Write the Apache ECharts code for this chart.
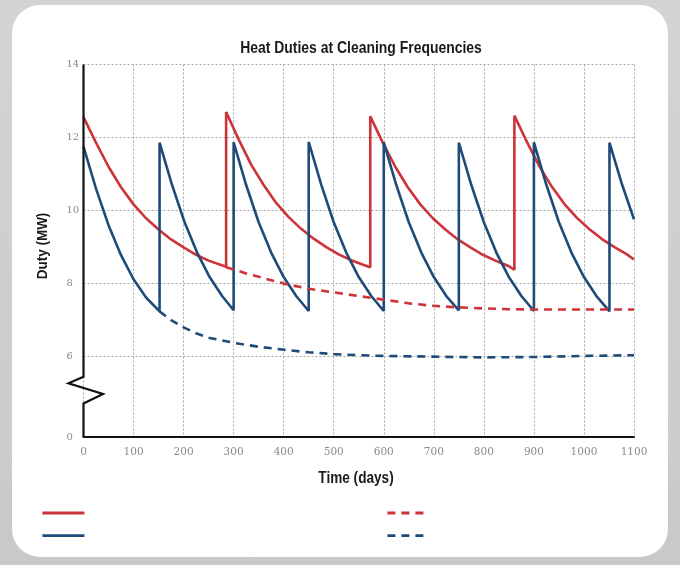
<!DOCTYPE html>
<html>
<head>
<meta charset="utf-8">
<script src="https://cdn.jsdelivr.net/npm/echarts@6/dist/echarts.min.js"></script>
<style>
  html, body { margin: 0; padding: 0; width: 680px; height: 565px; overflow: hidden;
    background: linear-gradient(180deg, #d4d4d4 0%, #c9c9c9 100%); }
  #card { position: absolute; left: 12px; top: 5px; width: 656px; height: 552px;
    background: #ffffff; border-radius: 28px; }
  #chart { position: absolute; left: 0; top: 0; width: 680px; height: 565px; }
</style>
</head>
<body>
<div id="card"></div>
<div id="chart"></div>
<script>
// ---- data (day, duty MW) ----
const titleText = 'Heat Duties at Cleaning Frequencies';
const xName = 'Time (days)';
const yName = 'Duty (MW)';
const xTicks = [0, 100, 200, 300, 400, 500, 600, 700, 800, 900, 1000, 1100];
const yTickValues = [3.8, 6, 8, 10, 12, 14];
const yTickLabels = ['0', '6', '8', '10', '12', '14'];

// red: cleaned about every 288 days
const redCleanDays = [0, 25, 50, 75, 100, 125, 150, 175, 200, 225, 250, 275, 285,
  285, 310, 335, 360, 385, 410, 435, 460, 485, 510, 535, 560, 573,
  573, 598, 623, 648, 673, 698, 723, 748, 773, 798, 823, 848, 861,
  861, 886, 911, 936, 961, 986, 1011, 1036, 1061, 1086, 1100];
const redCleanDuty = [12.56, 11.86, 11.20, 10.64, 10.17, 9.79, 9.48, 9.21, 8.99, 8.79, 8.63, 8.51, 8.46,
  12.70, 11.95, 11.26, 10.70, 10.21, 9.82, 9.50, 9.23, 9.00, 8.80, 8.64, 8.51, 8.45,
  12.58, 11.86, 11.20, 10.64, 10.17, 9.79, 9.48, 9.21, 8.99, 8.79, 8.63, 8.49, 8.38,
  12.60, 11.88, 11.21, 10.65, 10.18, 9.80, 9.49, 9.22, 9.00, 8.80, 8.66];

// blue: cleaned about every 150 days
const blueCleanDays = [0, 25, 50, 75, 100, 125, 152,
  152, 177, 202, 227, 252, 277, 300,
  300, 325, 350, 375, 400, 425, 450,
  450, 475, 500, 525, 550, 575, 600,
  600, 625, 650, 675, 700, 725, 750,
  750, 775, 800, 825, 850, 875, 900,
  900, 925, 950, 975, 1000, 1025, 1051,
  1051, 1076, 1100];
const blueCleanDuty = [11.75, 10.60, 9.60, 8.78, 8.12, 7.62, 7.24,
  11.86, 10.70, 9.68, 8.85, 8.18, 7.66, 7.27,
  11.87, 10.70, 9.68, 8.85, 8.18, 7.66, 7.25,
  11.88, 10.71, 9.68, 8.85, 8.18, 7.66, 7.25,
  11.87, 10.70, 9.68, 8.85, 8.18, 7.66, 7.27,
  11.86, 10.70, 9.68, 8.85, 8.18, 7.66, 7.25,
  11.87, 10.70, 9.68, 8.85, 8.18, 7.66, 7.24,
  11.86, 10.72, 9.76];

// dashed: no further cleaning
const redFouledDays = [285, 325, 365, 400, 450, 500, 550, 600, 650, 700, 750, 800, 850, 900, 950, 1000, 1050, 1100];
const redFouledDuty = [8.45, 8.28, 8.13, 8.00, 7.86, 7.76, 7.66, 7.56, 7.46, 7.39, 7.35, 7.32, 7.30, 7.29, 7.29, 7.29, 7.29, 7.29];
const blueFouledDays = [152, 175, 200, 225, 250, 300, 350, 400, 450, 500, 550, 600, 700, 800, 900, 1000, 1100];
const blueFouledDuty = [7.24, 7.00, 6.80, 6.64, 6.52, 6.38, 6.27, 6.19, 6.12, 6.07, 6.04, 6.02, 6.00, 5.98, 5.99, 6.02, 6.04];

const seriesNames = ['Red cleaned', 'Blue cleaned', 'Red uncleaned', 'Blue uncleaned'];

const RED = '#cc343a';
const BLUE = '#1f4b78';
const FONT_B = "'Liberation Sans', Arial, sans-serif";
const FONT_N = "'DejaVu Serif', serif";

const zip = (xs, ys) => xs.map((x, i) => [x, ys[i]]);

const chart = echarts.init(document.getElementById('chart'), null, { renderer: 'canvas' });

function lineSeries(name, data, color, dashed) {
  return {
    name, type: 'line', data, showSymbol: false, symbol: 'none',
    lineStyle: { color, width: 2.6, type: dashed ? [8, 6] : 'solid' },
    itemStyle: { color },
    animation: false
  };
}

const gridStyle = { color: '#a9a9a9', type: [2, 2], width: 1 };
const legendCommon = {
  orient: 'vertical', top: 506, padding: 0, itemWidth: 42, itemHeight: 14, itemGap: 10,
  formatter: () => '', selectedMode: false,
  itemStyle: { opacity: 0 },
  lineStyle: { width: 2.8 }
};

const option = {
  backgroundColor: 'transparent',
  animation: false,
  grid: { left: 83.5, right: 46, top: 64.5, bottom: 128 },
  xAxis: {
    type: 'value', min: xTicks[0], max: xTicks[xTicks.length - 1], interval: 100,
    axisLine: { lineStyle: { color: '#111', width: 2 } },
    axisTick: { show: false },
    axisLabel: { fontFamily: FONT_N, fontSize: 10.5, color: '#8a8a8a', margin: 10,
      formatter: v => String(v) },
    splitLine: { show: true, lineStyle: gridStyle }
  },
  yAxis: {
    type: 'value', min: 3.8, max: 14,
    axisLine: { show: false },
    axisTick: { show: false, customValues: yTickValues.slice(1) },
    axisLabel: {
      customValues: yTickValues, align: 'left', margin: 17,
      fontFamily: FONT_N, fontSize: 10, color: '#8a8a8a',
      formatter: v => yTickLabels[yTickValues.indexOf(v)] ?? ''
    },
    splitLine: { show: true, lineStyle: gridStyle }
  },
  legend: [
    Object.assign({ data: [seriesNames[0], seriesNames[1]], left: 41 }, legendCommon),
    Object.assign({ data: [seriesNames[2], seriesNames[3]], left: 386 }, legendCommon)
  ],
  series: [
    lineSeries(seriesNames[0], zip(redCleanDays, redCleanDuty), RED, false),
    lineSeries(seriesNames[1], zip(blueCleanDays, blueCleanDuty), BLUE, false),
    lineSeries(seriesNames[2], zip(redFouledDays, redFouledDuty), RED, true),
    lineSeries(seriesNames[3], zip(blueFouledDays, blueFouledDuty), BLUE, true)
  ]
};
chart.setOption(option);

// broken y-axis line with zigzag (decoration drawn in axis coordinates)
const axisPath = [[0, 14], [0, 5.45], [-30, 5.27], [39, 4.98], [0, 4.72], [0, 3.8]];
const pts = axisPath.map(p => chart.convertToPixel({ gridIndex: 0 }, p));

// condensed bold texts (title and axis names)
function condText(text, x, y, size, sx, rot) {
  return {
    type: 'text', x, y, scaleX: sx, rotation: rot || 0, z: 100, silent: true,
    style: { text, fontFamily: FONT_B, fontWeight: 'bold', fontSize: size, fill: '#1a1a1a',
      align: 'center', verticalAlign: 'middle' }
  };
}
chart.setOption({
  graphic: [
    {
      type: 'polyline', z: 100, silent: true,
      shape: { points: pts },
      style: { stroke: '#111', lineWidth: 2.2, fill: null, lineJoin: 'miter' }
    },
    condText(titleText, 361, 48, 17, 0.82),
    condText(xName, 356, 479, 16, 0.85),
    condText(yName, 43, 246, 15, 0.9, Math.PI / 2)
  ]
});
</script>
</body>
</html>
